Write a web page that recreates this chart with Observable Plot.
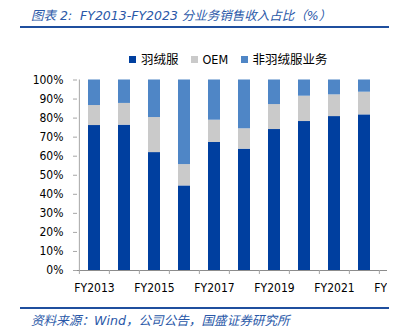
<!DOCTYPE html>
<html><head><meta charset="utf-8">
<script src="https://cdn.jsdelivr.net/npm/d3@7"></script>
<script src="https://cdn.jsdelivr.net/npm/@observablehq/plot@0.6"></script>
<style>
body{margin:0;background:#fff;}
#wrap{position:relative;width:389px;height:332px;overflow:hidden;background:#fff;}
.hr{position:absolute;left:20px;width:369px;height:1.6px;background:#1f4f9e;}
#title{position:absolute;left:31px;top:5px;font-style:italic;font-size:12.5px;color:#2a58a8;white-space:nowrap;font-family:"DejaVu Sans","Noto Sans CJK SC",sans-serif;}
#source{position:absolute;left:31px;top:310px;font-style:italic;font-size:12.6px;color:#2a58a8;white-space:nowrap;font-family:"DejaVu Sans","Noto Sans CJK SC",sans-serif;}
#legend{position:absolute;top:52px;left:0;width:389px;height:16px;font-family:"DejaVu Sans Condensed","Noto Sans CJK SC",sans-serif;font-size:12.5px;color:#000;}
.li{position:absolute;top:0;white-space:nowrap;line-height:16px;}
.sw{display:inline-block;width:7px;height:7px;margin-right:5px;vertical-align:1px;}
#chart{position:absolute;top:66px;left:0;width:387px;height:234px;overflow:hidden;}
#chart svg{max-width:none !important;width:410px;height:234px;}
</style></head><body>
<div id="wrap">
 <div id="title">图表 2:&nbsp; FY2013-FY2023 分业务销售收入占比（%）</div>
 <div class="hr" style="top:26px"></div>
 <div id="legend"></div>
 <div id="chart"></div>
 <div class="hr" style="top:307px"></div>
 <div id="source">资料来源：Wind，公司公告，国盛证券研究所</div>
</div>
<script>
const years = ["FY2013","FY2014","FY2015","FY2016","FY2017","FY2018","FY2019","FY2020","FY2021","FY2022","FY2023"];
const downWear = [76.1, 76.3, 61.9, 44.4, 67.2, 63.7, 74.0, 78.2, 80.8, 81.7, 82.0];
const oem      = [10.5, 11.4, 18.4, 11.2, 11.7, 10.7, 13.1, 13.3, 11.4, 11.9, 10.5];
const nonDown  = [13.4, 12.3, 19.7, 44.4, 21.1, 25.6, 12.9,  8.5,  7.8,  6.4,  7.5];
const categories = ["羽绒服","OEM","非羽绒服业务"];
const colors = ["#003f9f","#cacaca","#4f86c6"];
const yTicks = [0,10,20,30,40,50,60,70,80,90,100];
const xLabels = years.filter((d,i)=>i%2===0);
const legendX = [129, 190.5, 240.5];

const series = [downWear, oem, nonDown];
const data = years.flatMap((yr,i)=>categories.map((c,k)=>({year:yr, cat:c, v:series[k][i]})));

const leg = document.getElementById("legend");
categories.forEach((c,k)=>{
  const d = document.createElement("div");
  d.className="li"; d.style.left = legendX[k]+"px";
  d.innerHTML = `<span class="sw" style="background:${colors[k]}"></span>${c}`;
  leg.appendChild(d);
});

const step = 333/11;
const chart = Plot.plot({
  width: 410, height: 234,
  marginLeft: 77, marginRight: 0, marginTop: 13.5, marginBottom: 30,
  style:{fontFamily:"'DejaVu Sans Condensed','DejaVu Sans',sans-serif", fontSize:"12px", color:"#000", background:"transparent", overflow:"visible"},
  x:{domain: years, paddingInner: 0.6, paddingOuter: 0.3, label:null},
  y:{domain:[0,100], label:null},
  color:{domain: categories, range: colors},
  marks:[
    Plot.barY(data, {x:"year", y:"v", fill:"cat"}),
    Plot.ruleY([0], {stroke:"#8c8c8c"}),
    Plot.ruleX([years[0]], {dx:-step/2, y1:0, y2:100, stroke:"#a6a6a6"}),
    Plot.ruleX(years, {dx:-step/2, y1:0, y2:-2.1, stroke:"#a6a6a6"}),
    Plot.axisY({ticks: yTicks, tickFormat: d=>d+"%", tickSize:4, tickPadding:10, stroke:"#a6a6a6", label:null}),
    Plot.axisX({ticks: xLabels, tickSize:0, tickPadding:13, label:null})
  ]
});
document.getElementById("chart").appendChild(chart);
</script>
</body></html>
